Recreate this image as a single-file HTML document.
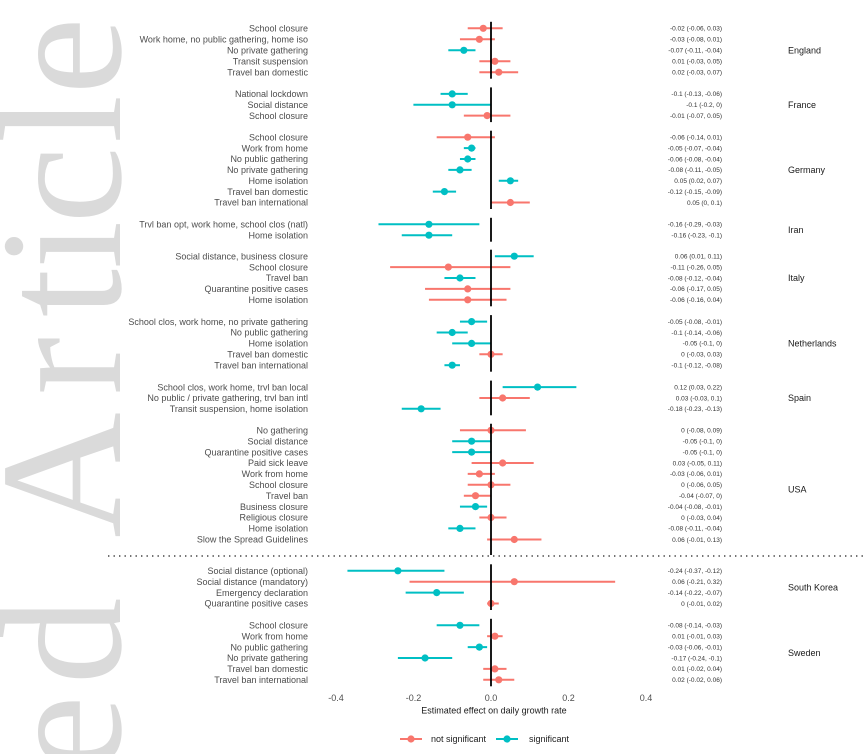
<!DOCTYPE html>
<html>
<head>
<meta charset="utf-8">
<style>
html,body{margin:0;padding:0;background:#fff;}
svg{display:block;}
.l{font-family:"Liberation Sans",Arial,sans-serif;font-size:9px;fill:#4d4d4d;text-anchor:end;}
.v{font-family:"Liberation Sans",Arial,sans-serif;font-size:6.5px;fill:#333;text-anchor:end;}
.c{font-family:"Liberation Sans",Arial,sans-serif;font-size:9px;fill:#1a1a1a;}
.tk{font-family:"Liberation Sans",Arial,sans-serif;font-size:9px;fill:#4d4d4d;text-anchor:middle;}
.r line{stroke:#F8766D;stroke-width:2;}
.r circle{fill:#F8766D;}
.t line{stroke:#00BFC4;stroke-width:2;}
.t circle{fill:#00BFC4;}
.z{stroke:#000;stroke-width:1.8;}
.wm{font-family:"Liberation Serif",serif;font-size:174px;fill:#dadada;text-anchor:middle;}
</style>
</head>
<body>
<svg width="865" height="754" viewBox="0 0 865 754" xmlns="http://www.w3.org/2000/svg">
<rect width="865" height="754" fill="#fff"/>
<g>
<text class="wm" transform="translate(120,734) rotate(-90)">e</text>
<text class="wm" transform="translate(120,641) rotate(-90)">d</text>
<text class="wm" transform="translate(120,475) rotate(-90)">A</text>
<text class="wm" transform="translate(120,366) rotate(-90)">r</text>
<text class="wm" transform="translate(120,293) rotate(-90)">t</text>
<text class="wm" transform="translate(120,245) rotate(-90)">i</text>
<text class="wm" transform="translate(120,185) rotate(-90)">c</text>
<text class="wm" transform="translate(120,119) rotate(-90)">l</text>
<text class="wm" transform="translate(120,56) rotate(-90)">e</text>
</g>

<!-- England -->
<g class="r"><line x1="467.72" y1="28.3" x2="502.64" y2="28.3"/><circle cx="483.24" cy="28.3" r="3.6"/></g>
<g class="r"><line x1="459.96" y1="39.3" x2="494.88" y2="39.3"/><circle cx="479.36" cy="39.3" r="3.6"/></g>
<g class="t"><line x1="448.32" y1="50.3" x2="475.48" y2="50.3"/><circle cx="463.84" cy="50.3" r="3.6"/></g>
<g class="r"><line x1="479.36" y1="61.3" x2="510.4" y2="61.3"/><circle cx="494.88" cy="61.3" r="3.6"/></g>
<g class="r"><line x1="479.36" y1="72.2" x2="518.16" y2="72.2"/><circle cx="498.76" cy="72.2" r="3.6"/></g>
<text class="l" x="308" y="31.5">School closure</text>
<text class="l" x="308" y="42.5">Work home, no public gathering, home iso</text>
<text class="l" x="308" y="53.5">No private gathering</text>
<text class="l" x="308" y="64.5">Transit suspension</text>
<text class="l" x="308" y="75.4">Travel ban domestic</text>
<text class="v" x="722" y="30.6">-0.02 (-0.06, 0.03)</text>
<text class="v" x="722" y="41.6">-0.03 (-0.08, 0.01)</text>
<text class="v" x="722" y="52.6">-0.07 (-0.11, -0.04)</text>
<text class="v" x="722" y="63.6">0.01 (-0.03, 0.05)</text>
<text class="v" x="722" y="74.5">0.02 (-0.03, 0.07)</text>
<text class="c" x="788" y="53.5">England</text>
<line class="z" x1="491" y1="21.8" x2="491" y2="78.7"/>

<!-- France -->
<g class="t"><line x1="440.56" y1="93.9" x2="467.72" y2="93.9"/><circle cx="452.2" cy="93.9" r="3.6"/></g>
<g class="t"><line x1="413.4" y1="104.8" x2="491" y2="104.8"/><circle cx="452.2" cy="104.8" r="3.6"/></g>
<g class="r"><line x1="463.84" y1="115.6" x2="510.4" y2="115.6"/><circle cx="487.12" cy="115.6" r="3.6"/></g>
<text class="l" x="308" y="97.1">National lockdown</text>
<text class="l" x="308" y="108">Social distance</text>
<text class="l" x="308" y="118.8">School closure</text>
<text class="v" x="722" y="96.2">-0.1 (-0.13, -0.06)</text>
<text class="v" x="722" y="107.1">-0.1 (-0.2, 0)</text>
<text class="v" x="722" y="117.9">-0.01 (-0.07, 0.05)</text>
<text class="c" x="788" y="108">France</text>
<line class="z" x1="491" y1="87.4" x2="491" y2="122.1"/>

<!-- Germany -->
<g class="r"><line x1="436.68" y1="137.2" x2="494.88" y2="137.2"/><circle cx="467.72" cy="137.2" r="3.6"/></g>
<g class="t"><line x1="463.84" y1="148.1" x2="475.48" y2="148.1"/><circle cx="471.6" cy="148.1" r="3.6"/></g>
<g class="t"><line x1="459.96" y1="159" x2="475.48" y2="159"/><circle cx="467.72" cy="159" r="3.6"/></g>
<g class="t"><line x1="448.32" y1="169.9" x2="471.6" y2="169.9"/><circle cx="459.96" cy="169.9" r="3.6"/></g>
<g class="t"><line x1="498.76" y1="180.8" x2="518.16" y2="180.8"/><circle cx="510.4" cy="180.8" r="3.6"/></g>
<g class="t"><line x1="432.8" y1="191.6" x2="456.08" y2="191.6"/><circle cx="444.44" cy="191.6" r="3.6"/></g>
<g class="r"><line x1="491" y1="202.5" x2="529.8" y2="202.5"/><circle cx="510.4" cy="202.5" r="3.6"/></g>
<text class="l" x="308" y="140.4">School closure</text>
<text class="l" x="308" y="151.3">Work from home</text>
<text class="l" x="308" y="162.2">No public gathering</text>
<text class="l" x="308" y="173.1">No private gathering</text>
<text class="l" x="308" y="184">Home isolation</text>
<text class="l" x="308" y="194.8">Travel ban domestic</text>
<text class="l" x="308" y="205.7">Travel ban international</text>
<text class="v" x="722" y="139.5">-0.06 (-0.14, 0.01)</text>
<text class="v" x="722" y="150.4">-0.05 (-0.07, -0.04)</text>
<text class="v" x="722" y="161.3">-0.06 (-0.08, -0.04)</text>
<text class="v" x="722" y="172.2">-0.08 (-0.11, -0.05)</text>
<text class="v" x="722" y="183.1">0.05 (0.02, 0.07)</text>
<text class="v" x="722" y="193.9">-0.12 (-0.15, -0.09)</text>
<text class="v" x="722" y="204.8">0.05 (0, 0.1)</text>
<text class="c" x="788" y="173">Germany</text>
<line class="z" x1="491" y1="130.7" x2="491" y2="209"/>

<!-- Iran -->
<g class="t"><line x1="378.48" y1="224.3" x2="479.36" y2="224.3"/><circle cx="428.92" cy="224.3" r="3.6"/></g>
<g class="t"><line x1="401.76" y1="235.2" x2="452.2" y2="235.2"/><circle cx="428.92" cy="235.2" r="3.6"/></g>
<text class="l" x="308" y="227.5">Trvl ban opt, work home, school clos (natl)</text>
<text class="l" x="308" y="238.4">Home isolation</text>
<text class="v" x="722" y="226.6">-0.16 (-0.29, -0.03)</text>
<text class="v" x="722" y="237.5">-0.16 (-0.23, -0.1)</text>
<text class="c" x="788" y="233">Iran</text>
<line class="z" x1="491" y1="217.8" x2="491" y2="241.7"/>

<!-- Italy -->
<g class="t"><line x1="494.88" y1="256.2" x2="533.68" y2="256.2"/><circle cx="514.28" cy="256.2" r="3.6"/></g>
<g class="r"><line x1="390.12" y1="267.1" x2="510.4" y2="267.1"/><circle cx="448.32" cy="267.1" r="3.6"/></g>
<g class="t"><line x1="444.44" y1="278" x2="475.48" y2="278"/><circle cx="459.96" cy="278" r="3.6"/></g>
<g class="r"><line x1="425.04" y1="288.9" x2="510.4" y2="288.9"/><circle cx="467.72" cy="288.9" r="3.6"/></g>
<g class="r"><line x1="428.92" y1="299.8" x2="506.52" y2="299.8"/><circle cx="467.72" cy="299.8" r="3.6"/></g>
<text class="l" x="308" y="259.4">Social distance, business closure</text>
<text class="l" x="308" y="270.3">School closure</text>
<text class="l" x="308" y="281.2">Travel ban</text>
<text class="l" x="308" y="292.1">Quarantine positive cases</text>
<text class="l" x="308" y="303">Home isolation</text>
<text class="v" x="722" y="258.5">0.06 (0.01, 0.11)</text>
<text class="v" x="722" y="269.4">-0.11 (-0.26, 0.05)</text>
<text class="v" x="722" y="280.3">-0.08 (-0.12, -0.04)</text>
<text class="v" x="722" y="291.2">-0.06 (-0.17, 0.05)</text>
<text class="v" x="722" y="302.1">-0.06 (-0.16, 0.04)</text>
<text class="c" x="788" y="281.2">Italy</text>
<line class="z" x1="491" y1="249.7" x2="491" y2="306.3"/>

<!-- Netherlands -->
<g class="t"><line x1="459.96" y1="321.6" x2="487.12" y2="321.6"/><circle cx="471.6" cy="321.6" r="3.6"/></g>
<g class="t"><line x1="436.68" y1="332.5" x2="467.72" y2="332.5"/><circle cx="452.2" cy="332.5" r="3.6"/></g>
<g class="t"><line x1="452.2" y1="343.4" x2="491" y2="343.4"/><circle cx="471.6" cy="343.4" r="3.6"/></g>
<g class="r"><line x1="479.36" y1="354.3" x2="502.64" y2="354.3"/><circle cx="491" cy="354.3" r="3.6"/></g>
<g class="t"><line x1="444.44" y1="365.2" x2="459.96" y2="365.2"/><circle cx="452.2" cy="365.2" r="3.6"/></g>
<text class="l" x="308" y="324.8">School clos, work home, no private gathering</text>
<text class="l" x="308" y="335.7">No public gathering</text>
<text class="l" x="308" y="346.6">Home isolation</text>
<text class="l" x="308" y="357.5">Travel ban domestic</text>
<text class="l" x="308" y="368.4">Travel ban international</text>
<text class="v" x="722" y="323.9">-0.05 (-0.08, -0.01)</text>
<text class="v" x="722" y="334.8">-0.1 (-0.14, -0.06)</text>
<text class="v" x="722" y="345.7">-0.05 (-0.1, 0)</text>
<text class="v" x="722" y="356.6">0 (-0.03, 0.03)</text>
<text class="v" x="722" y="367.5">-0.1 (-0.12, -0.08)</text>
<text class="c" x="788" y="346.6">Netherlands</text>
<line class="z" x1="491" y1="315.1" x2="491" y2="371.7"/>

<!-- Spain -->
<g class="t"><line x1="502.64" y1="387.1" x2="576.36" y2="387.1"/><circle cx="537.56" cy="387.1" r="3.6"/></g>
<g class="r"><line x1="479.36" y1="398" x2="529.8" y2="398"/><circle cx="502.64" cy="398" r="3.6"/></g>
<g class="t"><line x1="401.76" y1="408.8" x2="440.56" y2="408.8"/><circle cx="421.16" cy="408.8" r="3.6"/></g>
<text class="l" x="308" y="390.3">School clos, work home, trvl ban local</text>
<text class="l" x="308" y="401.2">No public / private gathering, trvl ban intl</text>
<text class="l" x="308" y="412">Transit suspension, home isolation</text>
<text class="v" x="722" y="389.4">0.12 (0.03, 0.22)</text>
<text class="v" x="722" y="400.3">0.03 (-0.03, 0.1)</text>
<text class="v" x="722" y="411.1">-0.18 (-0.23, -0.13)</text>
<text class="c" x="788" y="401.2">Spain</text>
<line class="z" x1="491" y1="380.6" x2="491" y2="415.3"/>

<!-- USA -->
<g class="r"><line x1="459.96" y1="430.3" x2="525.92" y2="430.3"/><circle cx="491" cy="430.3" r="3.6"/></g>
<g class="t"><line x1="452.2" y1="441.2" x2="491" y2="441.2"/><circle cx="471.6" cy="441.2" r="3.6"/></g>
<g class="t"><line x1="452.2" y1="452.1" x2="491" y2="452.1"/><circle cx="471.6" cy="452.1" r="3.6"/></g>
<g class="r"><line x1="471.6" y1="463" x2="533.68" y2="463"/><circle cx="502.64" cy="463" r="3.6"/></g>
<g class="r"><line x1="467.72" y1="473.9" x2="494.88" y2="473.9"/><circle cx="479.36" cy="473.9" r="3.6"/></g>
<g class="r"><line x1="467.72" y1="484.8" x2="510.4" y2="484.8"/><circle cx="491" cy="484.8" r="3.6"/></g>
<g class="r"><line x1="463.84" y1="495.7" x2="491" y2="495.7"/><circle cx="475.48" cy="495.7" r="3.6"/></g>
<g class="t"><line x1="459.96" y1="506.6" x2="487.12" y2="506.6"/><circle cx="475.48" cy="506.6" r="3.6"/></g>
<g class="r"><line x1="479.36" y1="517.5" x2="506.52" y2="517.5"/><circle cx="491" cy="517.5" r="3.6"/></g>
<g class="t"><line x1="448.32" y1="528.4" x2="475.48" y2="528.4"/><circle cx="459.96" cy="528.4" r="3.6"/></g>
<g class="r"><line x1="487.12" y1="539.5" x2="541.44" y2="539.5"/><circle cx="514.28" cy="539.5" r="3.6"/></g>
<text class="l" x="308" y="433.5">No gathering</text>
<text class="l" x="308" y="444.4">Social distance</text>
<text class="l" x="308" y="455.3">Quarantine positive cases</text>
<text class="l" x="308" y="466.2">Paid sick leave</text>
<text class="l" x="308" y="477.1">Work from home</text>
<text class="l" x="308" y="488">School closure</text>
<text class="l" x="308" y="498.9">Travel ban</text>
<text class="l" x="308" y="509.8">Business closure</text>
<text class="l" x="308" y="520.7">Religious closure</text>
<text class="l" x="308" y="531.6">Home isolation</text>
<text class="l" x="308" y="542.7">Slow the Spread Guidelines</text>
<text class="v" x="722" y="432.6">0 (-0.08, 0.09)</text>
<text class="v" x="722" y="443.5">-0.05 (-0.1, 0)</text>
<text class="v" x="722" y="454.4">-0.05 (-0.1, 0)</text>
<text class="v" x="722" y="465.3">0.03 (-0.05, 0.11)</text>
<text class="v" x="722" y="476.2">-0.03 (-0.06, 0.01)</text>
<text class="v" x="722" y="487.1">0 (-0.06, 0.05)</text>
<text class="v" x="722" y="498">-0.04 (-0.07, 0)</text>
<text class="v" x="722" y="508.9">-0.04 (-0.08, -0.01)</text>
<text class="v" x="722" y="519.8">0 (-0.03, 0.04)</text>
<text class="v" x="722" y="530.7">-0.08 (-0.11, -0.04)</text>
<text class="v" x="722" y="541.8">0.06 (-0.01, 0.13)</text>
<text class="c" x="788" y="492.6">USA</text>
<line class="z" x1="491" y1="423.8" x2="491" y2="555"/>

<!-- dotted separator -->
<line x1="108" y1="556" x2="863" y2="556" stroke="#444" stroke-width="1.4" stroke-dasharray="1.4 4.1"/>

<!-- South Korea -->
<g class="t"><line x1="347.44" y1="570.8" x2="444.44" y2="570.8"/><circle cx="397.88" cy="570.8" r="3.6"/></g>
<g class="r"><line x1="409.52" y1="581.7" x2="615.16" y2="581.7"/><circle cx="514.28" cy="581.7" r="3.6"/></g>
<g class="t"><line x1="405.64" y1="592.6" x2="463.84" y2="592.6"/><circle cx="436.68" cy="592.6" r="3.6"/></g>
<g class="r"><line x1="487.12" y1="603.5" x2="498.76" y2="603.5"/><circle cx="491" cy="603.5" r="3.6"/></g>
<text class="l" x="308" y="574">Social distance (optional)</text>
<text class="l" x="308" y="584.9">Social distance (mandatory)</text>
<text class="l" x="308" y="595.8">Emergency declaration</text>
<text class="l" x="308" y="606.7">Quarantine positive cases</text>
<text class="v" x="722" y="573.1">-0.24 (-0.37, -0.12)</text>
<text class="v" x="722" y="584">0.06 (-0.21, 0.32)</text>
<text class="v" x="722" y="594.9">-0.14 (-0.22, -0.07)</text>
<text class="v" x="722" y="605.8">0 (-0.01, 0.02)</text>
<text class="c" x="788" y="590.4">South Korea</text>
<line class="z" x1="491" y1="564.3" x2="491" y2="610"/>

<!-- Sweden -->
<g class="t"><line x1="436.68" y1="625.3" x2="479.36" y2="625.3"/><circle cx="459.96" cy="625.3" r="3.6"/></g>
<g class="r"><line x1="487.12" y1="636.2" x2="502.64" y2="636.2"/><circle cx="494.88" cy="636.2" r="3.6"/></g>
<g class="t"><line x1="467.72" y1="647.1" x2="487.12" y2="647.1"/><circle cx="479.36" cy="647.1" r="3.6"/></g>
<g class="t"><line x1="397.88" y1="658" x2="452.2" y2="658"/><circle cx="425.04" cy="658" r="3.6"/></g>
<g class="r"><line x1="483.24" y1="668.9" x2="506.52" y2="668.9"/><circle cx="494.88" cy="668.9" r="3.6"/></g>
<g class="r"><line x1="483.24" y1="679.8" x2="514.28" y2="679.8"/><circle cx="498.76" cy="679.8" r="3.6"/></g>
<text class="l" x="308" y="628.5">School closure</text>
<text class="l" x="308" y="639.4">Work from home</text>
<text class="l" x="308" y="650.3">No public gathering</text>
<text class="l" x="308" y="661.2">No private gathering</text>
<text class="l" x="308" y="672.1">Travel ban domestic</text>
<text class="l" x="308" y="683">Travel ban international</text>
<text class="v" x="722" y="627.6">-0.08 (-0.14, -0.03)</text>
<text class="v" x="722" y="638.5">0.01 (-0.01, 0.03)</text>
<text class="v" x="722" y="649.4">-0.03 (-0.06, -0.01)</text>
<text class="v" x="722" y="660.3">-0.17 (-0.24, -0.1)</text>
<text class="v" x="722" y="671.2">0.01 (-0.02, 0.04)</text>
<text class="v" x="722" y="682.1">0.02 (-0.02, 0.06)</text>
<text class="c" x="788" y="655.8">Sweden</text>
<line class="z" x1="491" y1="618.8" x2="491" y2="686.3"/>

<!-- x axis -->
<text class="tk" x="336" y="701">-0.4</text>
<text class="tk" x="413.5" y="701">-0.2</text>
<text class="tk" x="491" y="701">0.0</text>
<text class="tk" x="568.5" y="701">0.2</text>
<text class="tk" x="646" y="701">0.4</text>
<text font-family="Liberation Sans, Arial, sans-serif" font-size="9" fill="#1a1a1a" text-anchor="middle" x="494" y="713.3">Estimated effect on daily growth rate</text>

<!-- legend -->
<line x1="400" y1="739" x2="422" y2="739" stroke="#F8766D" stroke-width="2"/>
<circle cx="411" cy="739" r="3.6" fill="#F8766D"/>
<text class="c" x="431" y="742.2">not significant</text>
<line x1="496" y1="739" x2="518" y2="739" stroke="#00BFC4" stroke-width="2"/>
<circle cx="507" cy="739" r="3.6" fill="#00BFC4"/>
<text class="c" x="529" y="742.2">significant</text>
</svg>
</body>
</html>
